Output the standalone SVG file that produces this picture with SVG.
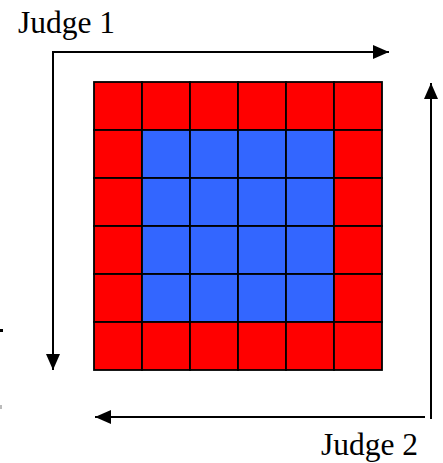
<svg xmlns="http://www.w3.org/2000/svg" width="443" height="463" viewBox="0 0 443 463">
<style>
.r{fill:#FF0000;stroke:#000;stroke-width:1.8}
.b{fill:#3366FF;stroke:#000;stroke-width:1.8}
.ln{fill:none;stroke:#000;stroke-width:2}
.lbl{font-family:"Liberation Serif","Times New Roman",serif;font-size:31.5px;fill:#000}
</style>
<defs>
<marker id="ah" markerUnits="userSpaceOnUse" markerWidth="18" markerHeight="14" refX="16" refY="7" orient="auto">
<polygon points="0,0 16,7 0,14" fill="#000"/>
</marker>
</defs>
<rect width="443" height="463" fill="#fff"/>
<g id="grid">
<g id="row1">
<rect class="r" x="94" y="82" width="48" height="48"/><rect class="r" x="142" y="82" width="48" height="48"/><rect class="r" x="190" y="82" width="48" height="48"/><rect class="r" x="238" y="82" width="48" height="48"/><rect class="r" x="286" y="82" width="48" height="48"/><rect class="r" x="334" y="82" width="48" height="48"/>
</g>
<g id="row2">
<rect class="r" x="94" y="130" width="48" height="48"/><rect class="b" x="142" y="130" width="48" height="48"/><rect class="b" x="190" y="130" width="48" height="48"/><rect class="b" x="238" y="130" width="48" height="48"/><rect class="b" x="286" y="130" width="48" height="48"/><rect class="r" x="334" y="130" width="48" height="48"/>
</g>
<g id="row3">
<rect class="r" x="94" y="178" width="48" height="48"/><rect class="b" x="142" y="178" width="48" height="48"/><rect class="b" x="190" y="178" width="48" height="48"/><rect class="b" x="238" y="178" width="48" height="48"/><rect class="b" x="286" y="178" width="48" height="48"/><rect class="r" x="334" y="178" width="48" height="48"/>
</g>
<g id="row4">
<rect class="r" x="94" y="226" width="48" height="48"/><rect class="b" x="142" y="226" width="48" height="48"/><rect class="b" x="190" y="226" width="48" height="48"/><rect class="b" x="238" y="226" width="48" height="48"/><rect class="b" x="286" y="226" width="48" height="48"/><rect class="r" x="334" y="226" width="48" height="48"/>
</g>
<g id="row5">
<rect class="r" x="94" y="274" width="48" height="48"/><rect class="b" x="142" y="274" width="48" height="48"/><rect class="b" x="190" y="274" width="48" height="48"/><rect class="b" x="238" y="274" width="48" height="48"/><rect class="b" x="286" y="274" width="48" height="48"/><rect class="r" x="334" y="274" width="48" height="48"/>
</g>
<g id="row6">
<rect class="r" x="94" y="322" width="48" height="48"/><rect class="r" x="142" y="322" width="48" height="48"/><rect class="r" x="190" y="322" width="48" height="48"/><rect class="r" x="238" y="322" width="48" height="48"/><rect class="r" x="286" y="322" width="48" height="48"/><rect class="r" x="334" y="322" width="48" height="48"/>
</g>
</g>
<g id="connectors">
<path class="ln" d="M53,370 L53,52 L389,52" marker-end="url(#ah)"/>
<path class="ln" d="M53,60 L53,370" marker-end="url(#ah)"/>
<path class="ln" d="M431,419 L431,83" marker-end="url(#ah)"/>
<path class="ln" d="M425,417 L95,417" marker-end="url(#ah)"/>
</g>
<g id="judge1"><text class="lbl" x="18" y="33">Judge 1</text></g>
<g id="judge2"><text class="lbl" x="321" y="455">Judge 2</text></g>
<rect x="0" y="329" width="3" height="3" fill="#000"/>
<rect x="0" y="405" width="2" height="4" fill="#bbb"/>
</svg>
